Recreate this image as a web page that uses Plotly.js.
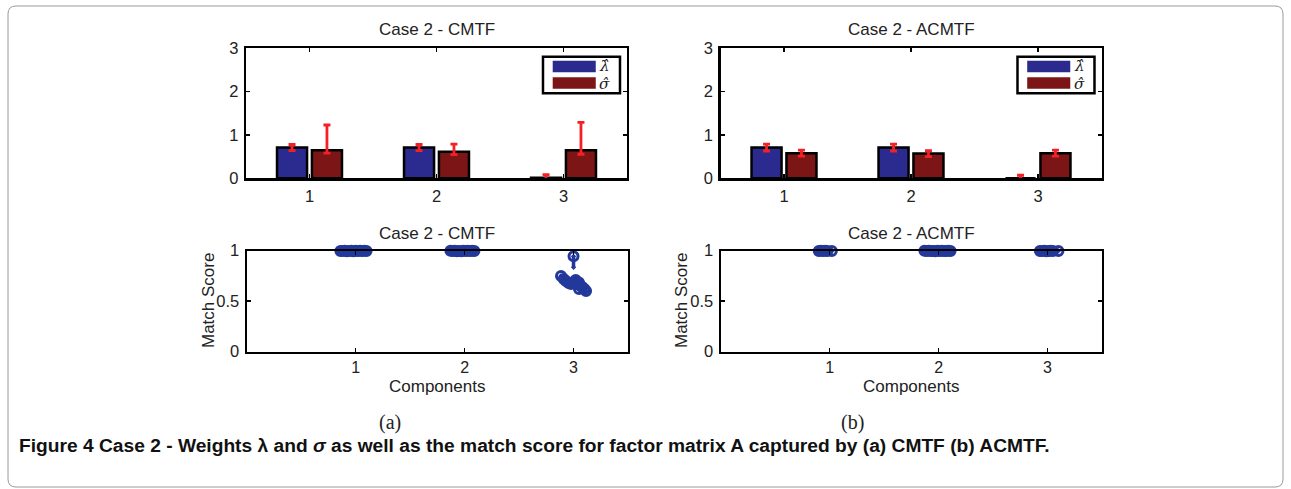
<!DOCTYPE html>
<html>
<head>
<meta charset="utf-8">
<script src="https://cdn.plot.ly/plotly-3.0.1.min.js"></script>
<style>
  html, body { margin: 0; padding: 0; background: #ffffff; }
  #fig { width: 1291px; height: 489px; }
</style>
</head>
<body>
<div id="fig"></div>
<script>
// ---- data ---------------------------------------------------------------
const components = [1, 2, 3];
const componentLabels = ['1', '2', '3'];

// estimated weights (mean over runs) with spread
const cmtfLambda       = [0.71, 0.71, 0.015];
const cmtfLambdaErr    = [0.07, 0.07, 0.07];
const cmtfSigma        = [0.65, 0.615, 0.645];
const cmtfSigmaErrUp   = [0.58, 0.175, 0.645];
const cmtfSigmaErrDown = [0.07, 0.07, 0.09];

const acmtfLambda     = [0.71, 0.71, 0.0];
const acmtfLambdaErr  = [0.08, 0.08, 0.07];
const acmtfSigma      = [0.58, 0.57, 0.58];
const acmtfSigmaErr   = [0.07, 0.07, 0.07];

// match scores of the individual runs (x spread around each component)
const cmtfC1X = [0.86, 0.88, 0.90, 0.92, 0.94, 0.96, 0.98, 1.00, 1.02, 1.04, 1.06, 1.08, 1.10];
const cmtfC1S = [0.998, 0.996, 1.0, 0.995, 0.997, 1.0, 0.994, 0.999, 0.996, 1.0, 0.997, 0.999, 0.998];
const cmtfC2X = [1.87, 1.89, 1.91, 1.93, 1.95, 1.97, 1.99, 2.01, 2.03, 2.05, 2.07, 2.09];
const cmtfC2S = [0.999, 0.996, 1.0, 0.994, 0.997, 0.995, 0.999, 0.998, 1.0, 0.997, 0.999, 0.998];
const cmtfC3X = [3.0, 3.0, null, 2.885, 2.91, 2.93, 2.955, 2.977, 3.0, 3.02, 3.05, 3.05, 3.065, 3.08, 3.1, 3.115];
const cmtfC3S = [0.944, 0.835, null, 0.75, 0.72, 0.70, 0.68, 0.67, 0.69, 0.71, 0.686, 0.62, 0.65, 0.64, 0.62, 0.60];
const cmtfC3Marked = [true, false, true, true, true, true, true, true, true, true, true, true, true, true, true, true];

const acmtfC1X = [0.90, 0.92, 0.94, 0.96, 0.98, 1.02];
const acmtfC1S = [0.998, 1.0, 0.997, 0.999, 0.996, 0.998];
const acmtfC2X = [1.87, 1.89, 1.91, 1.93, 1.95, 1.97, 1.99, 2.01, 2.03, 2.05, 2.07, 2.09, 2.11];
const acmtfC2S = [0.999, 0.997, 1.0, 0.996, 0.998, 0.994, 1.0, 0.997, 0.999, 0.996, 0.998, 1.0, 0.998];
const acmtfC3X = [2.93, 2.95, 2.97, 2.99, 3.01, 3.03, 3.05, 3.10];
const acmtfC3S = [0.998, 0.996, 1.0, 0.994, 0.997, 0.999, 0.996, 0.998];

const panelTitles = ['Case 2 - CMTF', 'Case 2 - ACMTF'];
const legendLabels = ['<i>λ̂</i>', '<i>σ̂</i>'];

// ---- styling --------------------------------------------------------------
const W = 1291, H = 489;
const px = v => v / W;          // pixel column -> paper x
const py = v => 1 - v / H;      // pixel row -> paper y

const BLUE = '#2b2b8f';
const DARKRED = '#7c1616';
const ERR = '#f52025';
const DOT = '#22389a';
const TXT = '#222222';
const sans = 'Liberation Sans, Arial, Helvetica, sans-serif';
const serif = 'DejaVu Serif, Liberation Serif, serif';
const MARK = 9;

function axisStyle(extra) {
  return Object.assign({
    showline: true, linecolor: '#000', linewidth: 2.2, mirror: 'ticks',
    ticks: 'inside', ticklen: 4, tickwidth: 1.5, tickcolor: '#000',
    showgrid: false, zeroline: false, fixedrange: true,
    tickfont: { family: sans, size: 16.5, color: TXT }
  }, extra);
}

function join(xs, ys, marked) {
  const x = [], y = [], s = [];
  xs.forEach((arr, i) => {
    if (i > 0) { x.push(null); y.push(null); s.push(0); }
    arr.forEach((v, j) => {
      x.push(v); y.push(ys[i][j]);
      s.push(marked && marked[i] && !marked[i][j] ? 0 : MARK);
    });
  });
  return { x, y, s };
}

function barTraces(lambda, lamErr, sigma, sigUp, sigDown, xa, ya) {
  return [
    {
      type: 'bar', x: components, y: lambda, xaxis: xa, yaxis: ya,
      marker: { color: BLUE, line: { color: '#000', width: 2.5 } },
      error_y: { type: 'data', array: lamErr, color: ERR, thickness: 2.8, width: 3.5 },
      cliponaxis: false, showlegend: false, hoverinfo: 'skip'
    },
    {
      type: 'bar', x: components, y: sigma, xaxis: xa, yaxis: ya,
      marker: { color: DARKRED, line: { color: '#000', width: 2.5 } },
      error_y: { type: 'data', symmetric: false, array: sigUp, arrayminus: sigDown,
                 color: ERR, thickness: 2.8, width: 3.5 },
      cliponaxis: false, showlegend: false, hoverinfo: 'skip'
    }
  ];
}

function scoreTrace(series, xa, ya) {
  return {
    type: 'scatter', mode: 'lines+markers', x: series.x, y: series.y,
    xaxis: xa, yaxis: ya, connectgaps: false, cliponaxis: false,
    line: { color: DOT, width: 3.5 },
    marker: { symbol: 'circle-open-dot', size: series.s, color: DOT, opacity: 1,
              line: { color: DOT, width: 3 } },
    showlegend: false, hoverinfo: 'skip'
  };
}

const cmtfScores = join([cmtfC1X, cmtfC2X, cmtfC3X], [cmtfC1S, cmtfC2S, cmtfC3S],
                        [null, null, cmtfC3Marked]);
const acmtfScores = join([acmtfC1X, acmtfC2X, acmtfC3X], [acmtfC1S, acmtfC2S, acmtfC3S]);

const traces = [
  ...barTraces(cmtfLambda, cmtfLambdaErr, cmtfSigma, cmtfSigmaErrUp, cmtfSigmaErrDown, 'x', 'y'),
  ...barTraces(acmtfLambda, acmtfLambdaErr, acmtfSigma, acmtfSigmaErr, acmtfSigmaErr, 'x2', 'y2'),
  scoreTrace(cmtfScores, 'x3', 'y3'),
  scoreTrace(acmtfScores, 'x4', 'y4')
];

// panel geometry (pixels)
const topRows = [48.3, 178.3];
const botRows = [250.7, 351.7];
const leftCols = { top: [246, 627], bot: [246.7, 628] };
const rightCols = { top: [720.5, 1101.5], bot: [720.7, 1102] };

const barX = r => axisStyle({ domain: [px(r[0]), px(r[1])], range: [0.5, 3.5],
  tickvals: components, ticktext: componentLabels, ticklabelstandoff: 2 });
const barY = (anchor) => axisStyle({ domain: [py(topRows[1]), py(topRows[0])], range: [0, 3],
  tickvals: [0, 1, 2, 3], anchor: anchor, ticklabelstandoff: 2 });
const scoreX = r => axisStyle({ domain: [px(r[0]), px(r[1])], range: [0, 3.5],
  tickvals: components, ticktext: componentLabels, ticklabelstandoff: 0,
  tickfont: { family: sans, size: 16, color: TXT } });
const scoreY = (anchor) => axisStyle({ domain: [py(botRows[1]), py(botRows[0])], range: [0, 1],
  tickvals: [0, 0.5, 1], ticktext: ['0', '0.5', '1'], anchor: anchor, ticklabelstandoff: 2 });

// legend boxes drawn inside both bar panels
function legendShapes(xa, ya) {
  const xr = xa + ' domain', yr = ya + ' domain';
  return [
    { type: 'rect', xref: xr, yref: yr, x0: 0.7795, x1: 0.9816, y0: 0.654, y1: 0.935,
      line: { color: '#000', width: 2.5 }, fillcolor: '#fff', layer: 'above' },
    { type: 'rect', xref: xr, yref: yr, x0: 0.805, x1: 0.918, y0: 0.815, y1: 0.905,
      line: { width: 0 }, fillcolor: BLUE, layer: 'above' },
    { type: 'rect', xref: xr, yref: yr, x0: 0.805, x1: 0.918, y0: 0.688, y1: 0.778,
      line: { width: 0 }, fillcolor: DARKRED, layer: 'above' }
  ];
}
function legendText(xa, ya) {
  const xr = xa + ' domain', yr = ya + ' domain';
  return legendLabels.map((t, i) => ({
    text: t, xref: xr, yref: yr, x: 0.922, y: i === 0 ? 0.865 : 0.728,
    xanchor: 'left', yanchor: 'middle', showarrow: false,
    font: { family: serif, size: 15, color: TXT }
  }));
}

const frame = (() => {
  const x0 = px(8), x1 = px(1283), y0 = py(6), y1 = py(487);
  const rx = px(8) - px(0), ry = 8 / H;
  return {
    type: 'path', xref: 'paper', yref: 'paper', layer: 'below',
    path: `M ${x0 + rx},${y0} L ${x1 - rx},${y0} Q ${x1},${y0} ${x1},${y0 - ry} ` +
          `L ${x1},${y1 + ry} Q ${x1},${y1} ${x1 - rx},${y1} L ${x0 + rx},${y1} ` +
          `Q ${x0},${y1} ${x0},${y1 + ry} L ${x0},${y0 - ry} Q ${x0},${y0} ${x0 + rx},${y0} Z`,
    line: { color: '#9a9a9a', width: 1 }
  };
})();

const label = (text, xPix, yPix, size, extra) => Object.assign({
  text, xref: 'paper', yref: 'paper', x: px(xPix), y: py(yPix),
  xanchor: 'center', yanchor: 'middle', showarrow: false,
  font: { family: sans, size: size, color: TXT }
}, extra || {});

const serifLabel = { font: { family: 'Liberation Serif, DejaVu Serif, serif', size: 20, color: TXT } };

const annotations = [
  label(panelTitles[0], 436.7, 30, 17),
  label(panelTitles[1], 911, 30, 17),
  label(panelTitles[0], 437, 233, 17),
  label(panelTitles[1], 911, 233, 17),
  label('Match Score', 208, 301, 17, { textangle: -90 }),
  label('Match Score', 681, 301, 17, { textangle: -90 }),
  label('Components', 437, 386, 17),
  label('Components', 911, 386, 17),
  label('(a)', 390, 422, 20, serifLabel),
  label('(b)', 852, 422, 20, serifLabel),
  label('<b>Figure 4</b> <b>Case 2 - Weights λ and <i>σ</i> as well as the match score for factor matrix A captured by (a) CMTF (b) ACMTF.</b>',
        17, 445, 19, { xanchor: 'left',
        font: { family: 'Liberation Sans, Arial, sans-serif', size: 19.2, color: '#111' } }),
  ...legendText('x', 'y'),
  ...legendText('x2', 'y2')
];

const layout = {
  width: W, height: H,
  margin: { l: 0, r: 0, t: 0, b: 0 },
  paper_bgcolor: '#fff', plot_bgcolor: '#fff',
  font: { family: sans, color: TXT },
  barmode: 'group', bargap: 0.45, bargroupgap: 0.14,
  showlegend: false,
  xaxis: Object.assign(barX(leftCols.top), { anchor: 'y' }),
  yaxis: barY('x'),
  xaxis2: Object.assign(barX(rightCols.top), { anchor: 'y2' }),
  yaxis2: barY('x2'),
  xaxis3: Object.assign(scoreX(leftCols.bot), { anchor: 'y3' }),
  yaxis3: scoreY('x3'),
  xaxis4: Object.assign(scoreX(rightCols.bot), { anchor: 'y4' }),
  yaxis4: scoreY('x4'),
  shapes: [frame, ...legendShapes('x', 'y'), ...legendShapes('x2', 'y2')],
  annotations
};

Plotly.newPlot('fig', traces, layout, { displayModeBar: false, staticPlot: true });
</script>
</body>
</html>
